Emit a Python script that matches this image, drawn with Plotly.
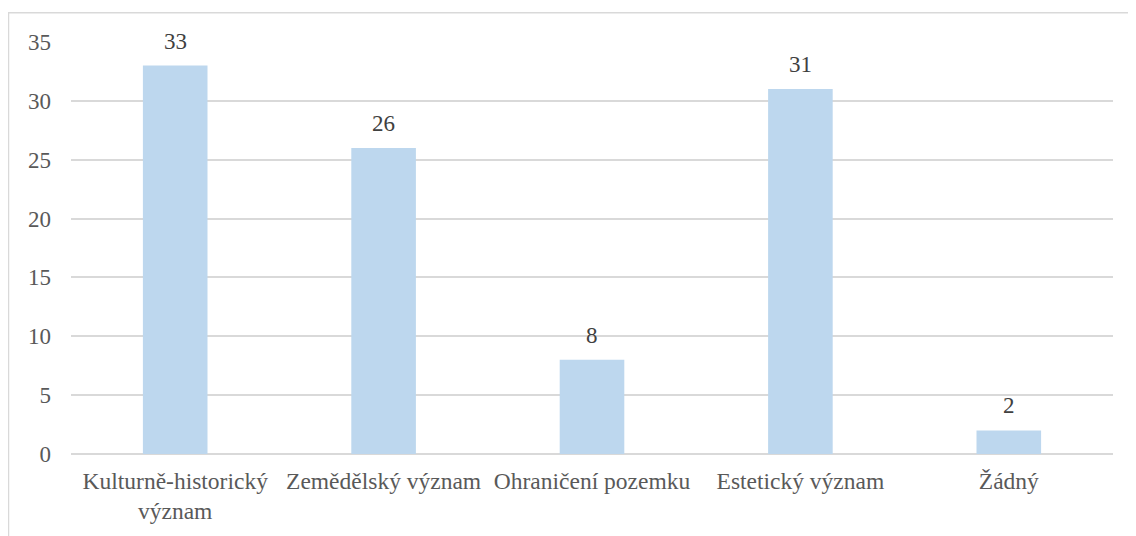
import plotly.graph_objects as go

categories = ["Kulturně-historický<br>význam", "Zemědělský význam", "Ohraničení pozemku", "Estetický význam", "Žádný"]
values = [33, 26, 8, 31, 2]
y_ticks = [0, 5, 10, 15, 20, 25, 30, 35]

FONT = "Liberation Serif, Times New Roman, serif"
# figure is placed at page offset (8, 8) by the body margin
W, H = 1128, 528
L, T = 63, 34
PR, PB = 1105, 449
PW, PH = PR - L, PB - T

fig = go.Figure()
fig.add_trace(go.Bar(
    x=categories, y=values,
    marker=dict(color="#BDD7EE", line=dict(width=0)),
    width=0.31,
    hoverinfo="skip",
))

for c, v in zip(categories, values):
    fig.add_annotation(x=c, y=v, text=str(v), showarrow=False,
                       yanchor="bottom", yshift=10,
                       font=dict(family=FONT, size=23, color="#404040"))

# chart border (left/top visible, right/bottom beyond the window)
fig.add_shape(type="rect", xref="paper", yref="paper",
              x0=(0.5 - L) / PW, x1=(1200 - L) / PW,
              y0=(PB - 700) / PH, y1=(PB - 4.5) / PH,
              line=dict(color="#D9D9D9", width=1.5), fillcolor="rgba(0,0,0,0)", layer="below")

fig.update_layout(
    width=W, height=H,
    margin=dict(l=L, r=W - PR, t=T, b=H - PB, pad=0),
    paper_bgcolor="white", plot_bgcolor="white",
    showlegend=False,
    font=dict(family=FONT, size=23, color="#595959"),
    xaxis=dict(showgrid=False, showline=False, ticks="", tickfont=dict(size=23.5, color="#595959"),
               ticklabelstandoff=10),
    yaxis=dict(range=[0, 35], tickvals=y_ticks, showgrid=True, gridcolor="#D9D9D9", gridwidth=1.5,
               zeroline=True, zerolinecolor="#D9D9D9", zerolinewidth=1.5, showline=False, ticks="",
               tickfont=dict(size=23, color="#595959"), ticklabelstandoff=19),
)

fig.write_html("out.html")
